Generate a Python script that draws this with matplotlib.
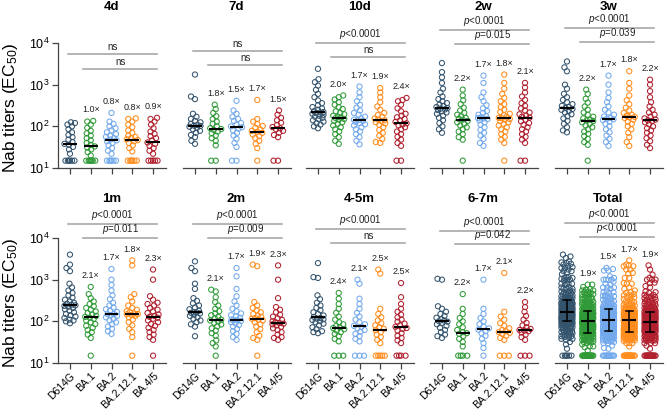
import numpy as np
import matplotlib
matplotlib.use("Agg")
import matplotlib.pyplot as plt
from matplotlib.ticker import NullLocator

plt.rcParams['font.family'] = ['Liberation Sans', 'DejaVu Sans']
plt.rcParams['mathtext.fontset'] = 'custom'
plt.rcParams['mathtext.rm'] = 'Liberation Sans'
plt.rcParams['mathtext.it'] = 'Liberation Sans:italic'
plt.rcParams['mathtext.bf'] = 'Liberation Sans:bold'

variants = ["D614G", "BA.1", "BA.2", "BA.2.12.1", "BA.4/5"]
colors = ["#34546e", "#2f9a37", "#72a9ec", "#ff8c1c", "#b0202e"]
titles = ["4d", "7d", "10d", "2w", "3w", "1m", "2m", "4-5m", "6-7m", "Total"]

# neutralizing titers per variant (EC50), one list per variant
d4 = [
    [15, 15, 15, 15, 15, 15, 22, 28, 32, 36, 38, 42, 48, 55, 62, 72, 85, 100, 110, 120, 125],
    [15, 15, 15, 15, 15, 15, 15, 20, 24, 28, 31, 33, 36, 40, 46, 52, 60, 68, 78, 92, 110, 130, 135],
    [15, 15, 15, 15, 15, 15, 22, 26, 30, 35, 40, 44, 46, 48, 52, 56, 60, 65, 72, 80, 90, 100, 115, 130, 210],
    [15, 15, 15, 15, 15, 15, 25, 30, 35, 40, 44, 47, 49, 52, 56, 60, 70, 80, 95, 110, 130, 150, 155],
    [15, 15, 15, 15, 15, 22, 26, 30, 34, 38, 41, 46, 52, 58, 66, 75, 90, 110, 130, 150, 160],
]
d7 = [
    [38, 45, 55, 62, 70, 78, 85, 92, 98, 102, 104, 108, 115, 125, 135, 150, 170, 200, 450, 520, 1750],
    [15, 15, 35, 45, 52, 60, 68, 75, 82, 86, 90, 100, 115, 130, 150, 175, 210, 260, 330],
    [15, 15, 32, 40, 50, 60, 70, 80, 88, 95, 100, 110, 120, 135, 150, 170, 200, 240, 410],
    [15, 30, 38, 45, 52, 58, 64, 70, 74, 78, 84, 92, 102, 115, 130, 150, 430],
    [15, 15, 55, 62, 70, 78, 85, 90, 96, 108, 122, 140, 160, 190, 240],
]
d10 = [
    [90, 100, 110, 120, 130, 140, 150, 160, 170, 180, 190, 200, 210, 215, 220, 230, 250, 270, 290,
     320, 360, 420, 500, 600, 750, 950, 1150, 1350, 2400],
    [38, 45, 55, 65, 75, 85, 95, 105, 115, 125, 135, 145, 150, 158, 162, 170, 180, 195, 210, 230,
     260, 290, 330, 380, 440, 500, 550],
    [37, 45, 55, 65, 75, 85, 95, 105, 112, 120, 128, 135, 140, 145, 155, 170, 190, 210, 240, 280,
     330, 400, 500, 650, 900],
    [40, 42, 50, 60, 70, 82, 95, 108, 118, 126, 134, 140, 146, 155, 168, 185, 210, 250, 300, 380, 500, 650, 830],
    [15, 15, 34, 40, 48, 56, 65, 75, 85, 95, 105, 112, 118, 128, 138, 150, 165, 180, 200, 230, 270,
     330, 400, 430, 480],
]
w2 = [
    [70, 85, 100, 120, 140, 160, 180, 200, 215, 230, 245, 255, 265, 275, 290, 310, 330, 360, 400,
     450, 520, 650, 800, 1100, 1500, 2000, 3300],
    [15, 48, 55, 65, 75, 85, 95, 105, 115, 125, 135, 145, 152, 160, 175, 190, 210, 240, 280, 340, 420, 550, 760],
    [34, 40, 50, 60, 70, 82, 95, 110, 125, 140, 150, 155, 158, 165, 175, 190, 210, 235, 270, 320,
     400, 500, 650, 1100, 1650],
    [15, 40, 48, 56, 65, 75, 85, 95, 105, 115, 125, 135, 145, 150, 157, 160, 170, 185, 200, 220,
     250, 290, 340, 400, 480, 600, 800, 1100, 1750],
    [15, 15, 40, 48, 56, 65, 75, 85, 95, 108, 120, 132, 145, 162, 170, 180, 195, 215, 240, 270,
     310, 360, 430, 520, 650, 850, 1100],
]
w3 = [
    [72, 80, 95, 115, 135, 155, 175, 195, 215, 235, 250, 262, 275, 290, 310, 340, 380, 430, 500,
     600, 800, 1000, 2100, 2600, 3600],
    [15, 36, 42, 50, 58, 66, 75, 85, 95, 105, 115, 125, 134, 139, 145, 155, 170, 190, 215, 250,
     300, 370, 460, 600, 760],
    [34, 42, 50, 60, 72, 85, 100, 115, 130, 142, 148, 152, 160, 172, 190, 215, 250, 300, 380, 480, 650, 1000, 1650],
    [34, 42, 55, 70, 85, 100, 115, 130, 145, 158, 165, 168, 178, 190, 210, 240, 280, 340, 420, 550, 800, 1100, 2100],
    [30, 36, 44, 52, 60, 70, 80, 90, 100, 112, 125, 135, 139, 145, 155, 170, 190, 215, 250, 300,
     380, 500, 700, 1000, 1320],
]
m1 = [
    [90, 100, 105, 110, 120, 130, 140, 150, 165, 180, 195, 210, 225, 235, 242, 250, 265, 280, 300,
     330, 370, 420, 480, 550, 650, 800, 1600, 1900, 2300, 4000],
    [15, 40, 48, 55, 62, 70, 78, 86, 95, 105, 115, 122, 128, 135, 145, 158, 172, 190, 210, 230,
     260, 300, 360, 450, 670],
    [50, 58, 66, 75, 85, 95, 105, 115, 125, 135, 142, 148, 150, 168, 180, 195, 215, 240, 280, 340,
     420, 550, 750, 1000, 1800],
    [15, 42, 55, 66, 80, 95, 110, 125, 135, 142, 148, 150, 155, 165, 175, 190, 210, 240, 300, 380, 450, 2200, 2900],
    [15, 36, 42, 48, 55, 62, 70, 78, 86, 95, 105, 115, 122, 128, 135, 145, 158, 172, 190, 210, 240,
     260, 280, 330, 400, 1000, 1750],
]
m2 = [
    [44, 75, 85, 95, 105, 115, 125, 135, 145, 155, 160, 165, 165, 180, 195, 215, 240, 270, 310,
     360, 600, 800, 1600, 1900, 2750],
    [15, 25, 30, 35, 45, 52, 60, 68, 76, 84, 92, 100, 105, 110, 118, 128, 140, 155, 175, 200, 240,
     290, 380, 520, 575],
    [36, 42, 50, 58, 66, 75, 82, 90, 96, 102, 106, 108, 110, 122, 130, 140, 155, 175, 200, 240,
     300, 400, 600, 1200, 1900],
    [15, 36, 40, 45, 55, 65, 75, 85, 95, 105, 110, 115, 120, 128, 138, 150, 165, 185, 210, 240, 290, 2100, 2300],
    [36, 40, 42, 48, 55, 62, 68, 74, 80, 85, 88, 91, 95, 100, 108, 118, 130, 145, 165, 190, 220, 360, 1000, 2200],
]
m45 = [
    [52, 55, 58, 65, 72, 80, 88, 95, 102, 108, 112, 116, 120, 128, 138, 150, 165, 185, 210, 240,
     280, 340, 420, 1100, 1150, 2500],
    [15, 15, 15, 33, 38, 44, 50, 55, 60, 65, 69, 72, 78, 85, 95, 110, 130, 160, 200, 260, 350, 480],
    [15, 15, 15, 33, 38, 44, 50, 56, 62, 68, 73, 78, 85, 95, 110, 130, 160, 200, 260, 350, 800, 1000],
    [15, 15, 15, 15, 15, 30, 36, 42, 48, 55, 61, 66, 72, 80, 90, 105, 125, 150, 200, 1400, 1750],
    [15, 15, 15, 15, 30, 35, 40, 45, 52, 60, 66, 69, 74, 80, 88, 98, 110, 125, 145, 170, 200, 260, 380, 830],
]
m67 = [
    [40, 44, 48, 55, 62, 70, 78, 85, 92, 98, 100, 104, 112, 122, 135, 150, 170, 200, 230, 1000, 1050],
    [15, 15, 15, 15, 25, 32, 38, 44, 50, 52, 55, 62, 72, 85, 100, 120, 150, 200, 450],
    [15, 23, 30, 38, 45, 52, 58, 63, 68, 75, 85, 100, 120, 150, 200, 1000],
    [15, 15, 15, 36, 40, 45, 50, 53, 55, 58, 62, 68, 78, 90, 110, 130, 170, 1450],
    [15, 15, 15, 36, 42, 48, 54, 58, 60, 62, 66, 72, 80, 92, 110, 135, 170, 220, 290],
]
timepoints = [d4, d7, d10, w2, w3, m1, m2, m45, m67]
total = [sum((tp[i] for tp in timepoints), []) for i in range(5)]
panels = timepoints + [total]

fold_labels = [
    ["1.0×", "0.8×", "0.8×", "0.9×"],
    ["1.8×", "1.5×", "1.7×", "1.5×"],
    ["2.0×", "1.7×", "1.9×", "2.4×"],
    ["2.2×", "1.7×", "1.8×", "2.1×"],
    ["2.2×", "1.7×", "1.8×", "2.2×"],
    ["2.1×", "1.7×", "1.8×", "2.3×"],
    ["2.1×", "1.7×", "1.9×", "2.3×"],
    ["2.4×", "2.1×", "2.5×", "2.5×"],
    ["2.2×", "1.7×", "2.1×", "2.2×"],
    ["1.9×", "1.5×", "1.7×", "1.9×"],
]
p_labels = [
    ("ns", "ns"), ("ns", "ns"), ("$p$<0.0001", "ns"), ("$p$<0.0001", "$p$=0.015"),
    ("$p$<0.0001", "$p$=0.039"), ("$p$<0.0001", "$p$=0.011"), ("$p$<0.0001", "$p$=0.009"),
    ("$p$<0.0001", "ns"), ("$p$<0.0001", "$p$=0.042"), ("$p$<0.0001", "$p$<0.0001"),
]

# layout (pixels of the 667x418 canvas)
W, H = 667, 418
lefts = [57.5, 182.5, 305.5, 429.5, 554.5]
tops = [43, 238]
AX_W, AX_H = 108, 125
title_y = [7, 199]
bracket_y = [(3.73, 3.37), (3.81, 3.47), (4.0, 3.66), (4.31, 3.97), (4.36, 4.02),
             (4.33, 4.0), (4.33, 4.0), (4.21, 3.88), (4.17, 3.85), (4.36, 4.02)]

DOT = 4.4     # px between dot centres
HALF = 5.5    # max swarm half-width, px


def swarm_x(ax, x0, vals):
    pts = ax.transData.transform(np.column_stack([np.full(len(vals), float(x0)), vals]))
    xc = pts[0, 0]
    ys = pts[:, 1]
    offs = np.arange(-HALF, HALF + 0.01, 0.5)
    offs = offs[np.argsort(np.abs(offs), kind="stable")]
    px, py = [], []
    out = np.zeros(len(vals))
    for i in np.argsort(ys, kind="stable"):
        y = ys[i]
        off = 0.0
        if px:
            ax_ = np.array(px)
            ay = np.array(py)
            near = np.abs(ay - y) < DOT
            if near.any():
                dx = offs[:, None] - ax_[near][None, :]
                dy = (y - ay[near])[None, :]
                dist = np.sqrt(dx ** 2 + dy ** 2).min(axis=1)
                ok = dist >= DOT
                off = offs[np.argmax(ok)] if ok.any() else offs[np.argmax(dist)]
        px.append(off)
        py.append(y)
        out[i] = xc + off
    back = ax.transData.inverted().transform(np.column_stack([out, ys]))
    return back[:, 0]


fig = plt.figure(figsize=(W / 100, H / 100), dpi=100)

for k, groups in enumerate(panels):
    r, c = divmod(k, 5)
    ax = fig.add_axes([lefts[c] / W, 1 - (tops[r] + AX_H) / H, AX_W / W, AX_H / H])
    ax.set_yscale("log")
    ax.set_ylim(10, 1e4)
    ax.set_xlim(-0.6, 4.6)
    ax.yaxis.set_minor_locator(NullLocator())
    for s in ["top", "right"]:
        ax.spines[s].set_visible(False)
    ax.spines["bottom"].set_color("#444444")
    ax.spines["bottom"].set_linewidth(0.9)
    ax.spines["left"].set_color("#444444")
    ax.spines["left"].set_linewidth(0.9)
    ax.tick_params(axis="both", color="#444444", width=0.9, length=4, pad=1.5)
    ax.set_xticks(range(5))
    if r == 1:
        ax.set_xticklabels(variants, rotation=45, ha="right", va="top",
                           rotation_mode="anchor", fontsize=7.5)
    else:
        ax.set_xticklabels([])
    if c == 0:
        ax.set_yticks([10, 100, 1000, 10000])
        ax.set_yticklabels(["$10^{1}$", "$10^{2}$", "$10^{3}$", "$10^{4}$"], fontsize=9)
    else:
        ax.spines["left"].set_visible(False)
        ax.tick_params(axis="y", left=False, labelleft=False)

    for g, vals in enumerate(groups):
        vals = np.asarray(vals, dtype=float)
        xs = swarm_x(ax, g, vals)
        ax.scatter(xs, vals, s=14, facecolors="none", edgecolors=colors[g],
                   linewidths=0.75, zorder=2, clip_on=False)
        med = np.median(vals)
        ax.plot([g - 0.33, g + 0.33], [med, med], color="black", lw=1.5, zorder=4,
                solid_capstyle="butt")
        if k == 9:
            q1, q3 = np.percentile(vals, [25, 75])
            ax.plot([g, g], [q1, q3], color="black", lw=1.1, zorder=4)
            for q in (q1, q3):
                ax.plot([g - 0.18, g + 0.18], [q, q], color="black", lw=1.1, zorder=4)
        if g > 0:
            ly = 10 ** (np.log10(vals.max()) + 0.27)
            ax.text(g, ly, fold_labels[k][g - 1], ha="center", va="center",
                    fontsize=6.5, color="#222222")

    y1, y2 = bracket_y[k]
    for (xa, xb), yy, lab in zip([(-0.1, 4.2), (0.65, 4.2)], (y1, y2), p_labels[k]):
        ax.plot([xa, xb], [10 ** yy, 10 ** yy], color="#a0a0a0", lw=1.1, clip_on=False)
        ax.annotate(lab, ((xa + xb) / 2, 10 ** yy), xytext=(0, 1.5), textcoords="offset points",
                    ha="center", va="bottom", fontsize=7, color="#222222", annotation_clip=False)

    fig.text((lefts[c] + 2.6 / 5.2 * AX_W) / W, 1 - title_y[r] / H, titles[k],
             ha="center", va="center", fontsize=9.5, fontweight="bold")

for r in range(2):
    fig.text(11 / W, 1 - (tops[r] + AX_H / 2 + 3) / H, "Nab titers (EC$_{50}$)",
             rotation=90, ha="center", va="center", fontsize=12.5)

fig.savefig("out.png", dpi=100)
